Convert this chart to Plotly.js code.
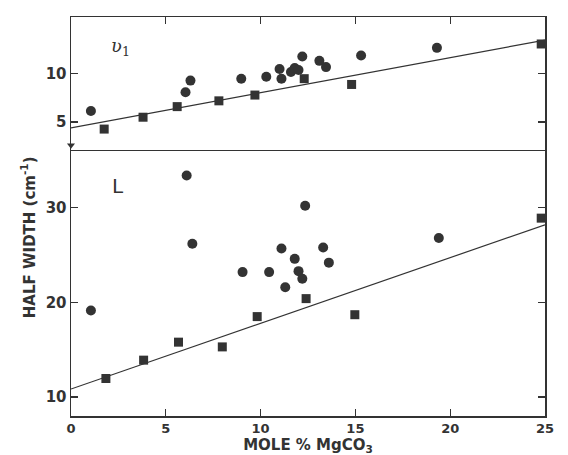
<!DOCTYPE html>
<html><head><meta charset="utf-8">
<script src="https://cdn.plot.ly/plotly-3.0.1.min.js"></script>
<style>html,body{margin:0;padding:0;background:#fff}#chart{width:568px;height:455px}</style>
</head><body><div id="chart"></div>
<script>
// Upper panel (nu1)
var nu1CircleX = [1.05, 6.04, 6.3, 8.98, 10.3, 11.0, 11.1, 11.6, 11.8, 12.0, 12.2, 13.1, 13.45, 15.3, 19.3];
var nu1CircleY = [6.15, 8.1, 9.3, 9.5, 9.7, 10.5, 9.5, 10.2, 10.6, 10.4, 11.8, 11.35, 10.7, 11.9, 12.7];
var nu1SquareX = [1.75, 3.8, 5.6, 7.8, 9.7, 12.3, 14.8, 24.8];
var nu1SquareY = [4.27, 5.5, 6.6, 7.2, 7.8, 9.5, 8.9, 13.1];
var fitX = [0, 25];
var nu1FitY = [4.4, 13.5];
// Lower panel (L)
var lCircleX = [1.05, 6.1, 6.4, 9.05, 10.45, 11.1, 11.3, 11.8, 12.0, 12.2, 12.35, 13.3, 13.6, 19.4];
var lCircleY = [19.15, 33.4, 26.2, 23.2, 23.2, 25.7, 21.6, 24.6, 23.3, 22.5, 30.2, 25.8, 24.2, 26.8];
var lSquareX = [1.84, 3.83, 5.67, 7.98, 9.82, 12.4, 14.97, 24.8];
var lSquareY = [11.96, 13.9, 15.8, 15.3, 18.5, 20.4, 18.7, 28.9];
var lFitY = [10.85, 28.2];
var xTicks = [0, 5, 10, 15, 20, 25];
var nu1Ticks = [5, 10];
var lTicks = [10, 20, 30];

var ink = '#333';
var circ = {symbol:'circle', size:10, color:ink};
var sq = {symbol:'square', size:9, color:ink};
var traces = [
  {x:fitX, y:nu1FitY, mode:'lines', line:{color:ink, width:1.2}, xaxis:'x2', yaxis:'y2'},
  {x:nu1CircleX, y:nu1CircleY, mode:'markers', marker:circ, xaxis:'x2', yaxis:'y2'},
  {x:nu1SquareX, y:nu1SquareY, mode:'markers', marker:sq, xaxis:'x2', yaxis:'y2', cliponaxis:false},
  {x:[0], y:[2.6], mode:'markers', marker:{symbol:'triangle-down', size:7, color:ink}, xaxis:'x2', yaxis:'y2', cliponaxis:false},
  {x:fitX, y:lFitY, mode:'lines', line:{color:ink, width:1.2}, xaxis:'x', yaxis:'y'},
  {x:lCircleX, y:lCircleY, mode:'markers', marker:circ, xaxis:'x', yaxis:'y'},
  {x:lSquareX, y:lSquareY, mode:'markers', marker:sq, xaxis:'x', yaxis:'y', cliponaxis:false}
];
var fam = 'DejaVu Sans, Liberation Sans, sans-serif';
var xTickFont = {family:fam, size:13, color:ink};
var yTickFont = {family:fam, size:15, color:ink};
var bold = function(a){ return a.map(function(v){ return '<b>' + v + '</b>'; }); };
var axBase = {showline:true, linecolor:ink, linewidth:1.5, showgrid:false, zeroline:false,
  ticks:'inside', ticklen:7, tickcolor:ink, tickwidth:1.2};
var layout = {
  width:568, height:455, showlegend:false,
  margin:{l:71, r:23, t:17, b:39},
  paper_bgcolor:'#fff', plot_bgcolor:'#fff',
  xaxis: Object.assign({}, axBase, {range:[0,25], tickvals:xTicks, ticktext:bold(xTicks), tickfont:xTickFont, anchor:'y', mirror:false,
    title:{text:'<b>MOLE % MgCO<sub>3</sub></b>', font:{family:fam, size:15, color:ink}, standoff:4}}),
  yaxis: Object.assign({}, axBase, {range:[8.0,36.1], domain:[0,0.6667], tickvals:lTicks, ticktext:bold(lTicks), tickfont:yTickFont, anchor:'x', mirror:'ticks'}),
  xaxis2: Object.assign({}, axBase, {range:[0,25], tickvals:[5,10,15,20], showticklabels:false, anchor:'y2', side:'top', mirror:true}),
  yaxis2: Object.assign({}, axBase, {range:[2.1,15.9], domain:[0.6667,1], tickvals:nu1Ticks, ticktext:bold(nu1Ticks), tickfont:yTickFont, anchor:'x2', mirror:'ticks'}),
  annotations:[
    {text:'<b>HALF WIDTH (cm<sup>-1</sup>)</b>', xref:'paper', yref:'paper', x:-0.09, y:0.449, textangle:-90,
      showarrow:false, xanchor:'center', yanchor:'middle', font:{family:fam, size:15, color:ink}},
    {text:'<i>ʋ</i><sub>1</sub>', xref:'x2', yref:'y2', x:2.6, y:12.8, showarrow:false,
      font:{family:'DejaVu Serif, serif', size:18, color:ink}},
    {text:'L', xref:'x', yref:'y', x:2.5, y:32.3, showarrow:false,
      font:{family:'DejaVu Sans, sans-serif', size:20, color:ink}}
  ]
};
Plotly.newPlot('chart', traces, layout, {staticPlot:true, displayModeBar:false});
</script></body></html>
